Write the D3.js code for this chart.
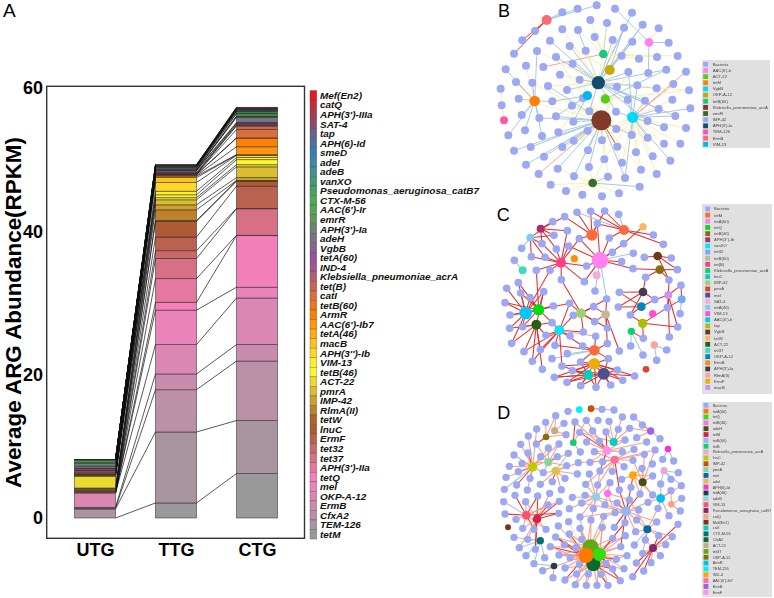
<!DOCTYPE html>
<html><head><meta charset="utf-8">
<script src="https://cdn.jsdelivr.net/npm/d3@7"></script>
<style>html,body{margin:0;padding:0;background:#fff}svg{display:block}text{font-family:"Liberation Sans",Arial,sans-serif}</style>
</head><body><svg id="c" width="774" height="598"></svg>
<script>
// ---------- Panel A data (bottom of the stack first) ----------
const groups=["UTG","TTG","CTG"];
const genes=["tetM","TEM-126","CfxA2","ErmB","OKP-A-12","mel","tetQ","APH(3')-IIa","tet37","tet32","ErmF","lnuC","tetW","RlmA(II)","IMP-42","pmrA","ACT-22","tetB(46)","VIM-13","APH(3'')-Ib","macB","tetA(46)","AAC(6')-Ib7","ArmR","tetB(60)","catI","tet(B)","Klebsiella_pneumoniae_acrA","IND-4","tetA(60)","VgbB","adeH","APH(3')-Ia","emrR","AAC(6')-Ir","CTX-M-56","Pseudomonas_aeruginosa_catB7","vanXO","adeB","adeI","smeD","APH(6)-Id","tap","SAT-4","APH(3')-IIIa","catQ","Mef(En2)"];
const utgValues=[0,1.26,.1,.13,2,0,0,0,0,.05,.2,.05,.03,.2,.1,.07,1.6,.1,.05,.05,.05,.03,.02,0,.05,.05,.2,.2,.1,.2,.05,.3,.35,.2,.3,.03,.02,.01,.01,.01,.01,0,0,0,0,0,0];
const ttgValues=[2.1,9.9,5.9,2.2,4.1,4.8,1.1,3.3,2.8,1.1,1.9,2.2,.1,1.5,.7,.7,.3,.4,.5,1.2,.7,.2,.1,.1,.05,.05,.05,.05,.1,.25,.05,.05,.05,.05,.15,.1,.05,.05,.05,.05,.05,.05,.02,.02,.02,.02,.02];
const ctgValues=[6.2,7.4,8.3,2.3,6.5,1.5,7.2,.05,3.7,.05,3.1,.7,.05,.05,.4,1.5,.3,.7,.3,.3,.05,.05,1.1,1.2,.05,1.15,.5,.1,.15,.15,.1,.7,.1,.1,.3,.1,.2,.1,.05,.05,.1,.05,.05,.05,.05,.05,.05];
const yTicks=[0,20,40,60];

// ---------- Network layouts, in layout units ----------
// leaf: [x, y, hub, edge kind]; edge kind omitted = the panel's usual kind
const edgeKindColors=["#a4c6da","#f5efb0","#e03030","#f5a08c"];
const bacteriaColor="#9ca8f2";

const netBLegend=["Bacteria","AAC(6')-Ir","ACT-22","tetM","VgbB","OKP-A-12","tetB(60)","Klebsiella_pneumoniae_acrA","emrR","IMP-42","APH(3')-Ia","TEM-126","ErmB","VIM-13"];
const netBColors=[bacteriaColor,"#ff80f0","#55d010","#ff8000","#00d8ff","#c8a800","#15c882","#803a28","#3e6b1f",bacteriaColor,"#134d6b","#ff55aa","#f96a72","#00b8f0"];
const netBHubs=[["ErmB",170,60,15],["AAC(6')-Ir",477,127,13],["tetB(60)",340,162,13],["OKP-A-12",359,210,15],["APH(3')-Ia",325,248,20],["VIM-13",292,287,14],["ACT-22",346,297,14],["tetM",134,303,16],["VgbB",428,352,17],["Klebsiella_pneumoniae_acrA",334,361,30],["TEM-126",42,361,12],["emrR",308,549,13]];
const netBLeaves=[[320,16,0],[263,26,0],[217,37,0],[375,26,1],[426,38,4],[135,93,0,2],[301,60,2,1],[351,69,2],[458,74,4],[506,85,1,1],[217,88,4,1],[264,90,4],[402,83,3],[314,111,2,1],[368,120,4],[427,125,3],[536,128,1],[97,121,0,2],[180,122,4],[239,138,4],[72,161,0,2],[141,153,7],[287,152,4,1],[198,171,4],[395,167,2,1],[447,176,2,1],[501,171,2,1],[563,168,2,1],[47,208,7],[108,197,7,1],[160,201,2,3],[248,191,4],[210,224,4,1],[415,216,4],[475,219,1],[529,209,4],[588,215,8,3],[78,246,7,3],[127,248,7],[269,239,4],[174,258,4,1],[32,266,10,1],[231,270,4],[381,260,4],[442,256,4],[500,265,4],[550,252,8,3],[597,271,4,1],[86,296,7],[187,304,7],[279,294,4,1],[35,316,10,1],[413,299,8],[465,302,8],[547,299,8,1],[246,317,9,1],[298,334,9],[378,335,8],[506,327,8],[601,325,8],[95,345,7],[148,354,7],[198,349,9],[250,365,9],[473,363,8],[556,348,8],[105,391,7],[205,397,9],[293,392,9],[379,387,9,2],[522,382,8],[588,384,8,1],[55,406,7],[156,408,7],[251,422,9,3],[336,421,9],[425,405,8],[473,413,8],[382,440,9,2],[522,431,8,1],[571,431,8,1],[122,441,9],[72,452,9],[294,451,9],[217,441,9],[162,470,9],[438,457,8,1],[488,469,8,1],[343,478,9,1],[396,488,9,1],[541,482,8],[108,494,9],[203,506,9],[297,501,9],[453,509,8,1],[500,522,8,1],[146,522,9,3],[252,529,9],[354,530,9,1],[405,534,8],[182,554,11,1],[449,560,11],[228,573,11,1],[277,584,11,1],[336,589,11,1],[387,580,11,1]];
const netBExtraEdges=[[402,83,4],[368,120,3,1],[351,69,4,1],[427,125,4],[458,74,3],[264,90,2,1],[239,138,3,1],[198,171,9,1],[141,153,4,1],[127,248,9,1],[231,270,9,1],[174,258,9],[269,239,9,1],[298,334,4],[381,260,9,1],[442,256,8],[500,265,8,1],[415,216,9,1],[415,216,8],[529,209,6],[597,271,6,1],[378,335,4],[413,299,4],[465,302,4],[473,363,4],[425,405,9],[473,413,9,1],[506,327,4],[556,348,4],[343,478,8,1],[396,488,8,1],[294,451,8,1],[336,421,8,1],[205,397,5,1],[198,349,5],[250,365,5],[246,317,5],[187,304,5],[86,296,9,1],[148,354,9],[217,441,8,1],[405,534,9],[453,509,9,1],[297,501,11,1],[252,529,11,1],[354,530,11],[343,478,11,1],[203,506,11,1]];

const netCLegend=["Bacteria","tetM","tetA(60)","tetQ","tetB(46)","APH(3'')-Ib","vanXO","tet32","tetB(60)","tet(B)","Klebsiella_pneumoniae_acrA","lnuC","IMP-42","pmrA","mel","SAT-4","tetA(46)","VIM-13","AAC(6')-Ir","tap","VgbB","tetW","ACT-22","tet37","OKP-A-12","ErmB","APH(3')-Ia","RlmA(II)","ErmF","macB"];
const netCColors=[bacteriaColor,"#ff6a3a","#ff80f0","#00dd10","#8b6b10","#a83068","#00e8f8","#70aaf8","#c0b898","#ff3d88","#10d070","#00d0c0","#a0d070","#e04030","#4a5090","#f5aadf","#88c8f0","#ff4fd0","#00c8ff","#a8c000","#6b3a18","#ffb566","#285f18","#40d8c0","#0088b8","#ff8c10","#45384f","#ff9f9f","#e8b000","#d090f0"];
const netCHubs=[["tetA(60)",330,181,25],["tetM",306,105,17],["tetM",402,90,15],["tetW",459,80,11],["APH(3'')-Ib",152,86,12],["tetA(46)",121,113,12],["tet(B)",213,188,15],["ErmB",253,176,11],["SAT-4",320,226,12],["VgbB",503,168,13],["tetB(46)",509,209,13],["tet37",98,211,12],["APH(3')-Ia",459,276,13],["macB",535,285,12],["tet32",575,298,12],["OKP-A-12",454,320,13],["VIM-13",488,341,11],["AAC(6')-Ir",107,339,19],["tetQ",146,329,17],["IMP-42",273,340,15],["tetB(60)",347,343,13],["tap",458,370,14],["ACT-22",139,374,15],["vanXO",208,391,15],["Klebsiella_pneumoniae_acrA",424,394,11],["RlmA(II)",493,435,11],["tetM",313,451,16],["ErmF",313,491,17],["lnuC",295,525,15],["mel",341,521,18],["pmrA",468,508,10]];
const netCLeaves=[[224,50,1],[261,37,1],[302,34,1],[344,33,1],[386,43,2,0],[188,65,4],[322,71,1],[232,92,6],[268,116,1],[192,106,4],[156,131,6],[95,145,5,0],[73,181,11,0],[124,170,6],[165,172,6],[199,147,6],[236,138,0],[358,114,0],[401,131,3],[490,105,2],[520,133,2],[430,160,0,0],[463,172,9],[367,157,0],[395,185,0],[544,174,9],[290,198,0],[429,206,0],[467,232,10],[562,209,10],[537,240,9],[139,211,6],[180,211,6],[214,239,19],[283,245,0],[50,265,17],[85,248,17],[92,279,17],[120,293,17],[161,275,18],[315,273,0,0],[350,297,0,0],[388,277,12],[385,321,12],[494,299,12],[573,256,13],[45,308,17],[190,318,18],[239,310,19],[311,320,20],[60,345,17],[532,323,13],[421,345,15],[570,341,14,0],[59,385,17],[98,380,17],[250,346,19],[314,365,20],[186,368,23],[168,406,22],[240,408,23],[280,396,23],[352,384,20],[563,381,21],[538,411,13],[317,409,26],[460,415,21],[102,455,22],[151,449,22],[195,436,23],[278,438,26],[352,431,26],[388,453,20],[530,450,25,0],[65,430,17],[127,484,22],[186,476,26,0],[232,461,26,0],[422,438,24,0],[459,465,24,0],[500,481,25,0],[157,508,22],[216,498,23],[355,476,27],[382,510,29],[193,532,28],[231,547,28],[272,557,28],[318,562,29],[362,555,29],[398,541,29],[434,528,29],[247,512,28],[272,486,27]];
const netCExtraEdges=[[322,71,0],[268,116,0],[401,131,0],[199,147,4],[192,106,5],[156,131,4],[156,131,5],[124,170,5],[165,172,5],[232,92,4],[188,65,5],[236,138,6],[224,50,4],[261,37,2,0],[302,34,2],[344,33,2],[322,71,2],[358,114,2],[268,116,6],[290,198,6],[283,245,6],[214,239,6],[139,211,18],[180,211,17],[161,275,17],[120,293,18],[190,318,17],[85,248,18],[92,279,18],[45,308,18],[60,345,18],[98,380,18],[59,385,22],[98,380,22],[65,430,22],[161,275,22],[186,368,22],[168,406,23],[186,368,18],[250,346,23],[239,310,23],[239,310,18],[311,320,19],[314,365,19],[280,396,19],[352,384,19],[350,297,20],[350,297,19],[388,277,15],[421,345,21],[421,345,12],[385,321,15],[494,299,13],[494,299,15],[532,323,21],[532,323,14],[573,256,14],[562,209,9],[537,240,10],[467,232,12],[429,206,10],[537,240,13],[563,381,13],[460,415,24],[317,409,23,3],[278,438,23],[195,436,26],[352,431,20],[102,455,23],[151,449,23],[127,484,23],[216,498,28],[216,498,27],[247,512,27],[247,512,29],[272,486,28],[272,486,26],[355,476,26],[355,476,29],[193,532,27],[231,547,29],[231,547,27],[272,557,29],[272,557,27],[318,562,28],[362,555,27],[382,510,27],[398,541,27],[434,528,27],[193,532,29],[318,562,27]];

const netDLegend=["Bacteria","tetA(60)","tetQ","tetB(46)","adeH","tetM","tetB(60)","tetB","Klebsiella_pneumoniae_acrA","lnuC","IMP-42","pmrA","mel","adeI","APH(6)-Id","tetA(46)","adeB","VIM-13","Pseudomonas_aeruginosa_catB7","catQ","Mef(En2)","catI","CTX-M-56","CfxA2","ACT-22","tet37","OKP-A-12","ArmR","TEM-126","IND-4","AAC(6')-Ib7","ErmB","ErmF"];
const netDColors=[bacteriaColor,"#ff7800","#33dd10","#ff70f0","#4a5015","#d82050","#90b8f8","#10d070","#e8a8d8","#bccc00","#c85000","#80d8a0","#006aa8","#dcc050","#ff30d0","#1e4050","#90d0e8","#ff5070","#802868","#ffa080","#7a3518","#00d0c0","#087070","#086a30","#c8a888","#60aa15","#857008","#00c0f0","#00f0f8","#ffa500","#ff6aa8","#a060e0","#ff90f0"];
const netDHubs=[["TEM-126",268,44,10],["IMP-42",303,41,10],["ACT-22",194,107,11],["OKP-A-12",168,126,10],["tetB",250,143,10],["catI",371,141,12],["ErmB",482,108,11],["APH(6)-Id",534,162,10],["ErmF",351,167,13],["AAC(6')-Ib7",374,194,12],["Klebsiella_pneumoniae_acrA",522,227,11],["IND-4",429,241,12],["adeH",458,262,12],["lnuC",128,216,14],["pmrA",175,202,12],["adeI",197,228,13],["ArmR",512,310,13],["catQ",544,328,10],["adeB",318,306,13],["tetB(46)",353,295,11],["tetB(60)",408,349,15],["VIM-13",109,361,13],["tetM",141,372,13],["Mef(En2)",54,397,9],["mel",472,403,12],["CTX-M-56",151,437,11],["Pseudomonas_aeruginosa_catB7",489,459,12],["tetA(46)",192,513,10],["CfxA2",310,508,21],["tet37",302,458,25],["tetQ",328,478,20],["tetA(60)",288,481,23]];
const netDLeaves=[[234,49,0,1],[336,43,1],[372,45,1],[197,62,2],[397,66,5],[431,66,6],[167,82,3],[222,85,2],[255,81,4,2],[289,76,8],[324,76,5,1],[357,79,5],[457,90,6],[140,102,13],[385,103,5],[419,100,6],[115,123,13],[228,119,2],[269,112,8,2],[308,108,8],[348,111,5],[405,135,5],[440,128,6],[510,131,6,0],[92,148,13],[139,147,3,2],[207,147,14],[290,141,8],[328,139,8,2],[470,141,8],[72,180,13],[114,174,13,2],[175,159,14],[235,175,15,0],[271,171,4],[313,170,8],[397,170,8],[432,163,9],[495,165,9],[463,178,9],[96,205,13],[152,185,13],[202,185,14,2],[265,203,15],[300,202,9],[338,200,9],[429,196,9],[518,193,7,0],[551,198,7,0],[58,214,13],[230,212,15],[402,215,9],[456,220,11],[487,207,12,1],[330,228,9],[367,229,9],[160,233,13],[85,230,13,2],
[48,247,13],[120,250,13,2],[225,250,15],[262,237,15],[298,237,18],[395,253,11],[488,243,12],[565,233,10,0],[80,270,13,2],[151,268,15],[187,260,15,2],[287,268,18],[323,270,18],[360,263,19],[423,277,11,2],[512,267,16],[543,253,10,0],[574,272,16],[43,283,13,0],[75,301,21,2],[112,285,13],[179,295,22],[214,284,15],[247,307,18],[285,301,18],[388,285,20,2],[450,297,12],[488,300,16],[543,287,16],[143,303,21,2],[41,320,21,0],[208,319,22,2],[107,320,21],[275,324,18],[345,329,19],[381,324,20,2],[418,315,20,2],[474,322,16],[504,340,16],[575,310,17],[174,330,22,2],[238,341,18],[310,341,18],[446,345,20],[571,348,17],[45,357,21,2],[206,355,22,2],[270,366,20],[303,375,29],[341,364,20],[375,353,20],[537,362,16],[405,383,20,2],[440,375,24],[500,381,24],[78,373,21],[236,380,31,1],[98,400,21],[132,403,21,2],[168,403,22],[205,393,31],[270,400,29],[337,397,29,1],[373,397,20,2],[437,410,24],[564,388,26,2],[72,427,25,0],[113,433,25,0],[197,426,31,2],[238,417,31,2],[275,433,31],[368,430,30],[406,422,30],[547,425,26],[506,422,26,2],[466,435,24,2],[88,458,25,0],[136,463,22,2],[181,455,31,2],[223,449,31,2],[257,458,31,2],[392,455,30],[433,450,24,0],[458,475,26],[527,449,26],[108,482,25,0],[164,488,25,0],[207,480,31,2],[240,488,31],[411,482,30],[379,493,30],[511,482,26],[483,503,26],[132,506,27,0],[158,527,27],[225,519,31],[268,508,31,1],[348,505,30],[439,504,26,2],[189,548,27],[225,555,28],[260,537,28],[295,537,28],[333,538,28],[368,522,30,2],[402,521,30],[461,528,26,2],[428,545,26,2],[256,569,28],[289,571,28],[321,571,28],[354,571,28,2],[391,557,30,2]];
const netDExtraEdges=[[269,112,5],[289,76,4],[255,81,8],[228,119,3],[197,62,3],[207,147,13],[175,159,13],[139,147,14],[202,185,13],[160,233,14],[160,233,15],[96,205,14],[235,175,14],[265,203,9],[300,202,8],[313,170,9],[338,200,8],[330,228,8,2],[330,228,18],[405,135,8],[397,170,8],[429,196,12],[456,220,12],[463,178,12],[495,165,12],[348,111,8,2],[419,100,5],[152,185,14],[230,212,14],[488,243,11],[450,297,20,2],[423,277,20,2],[450,297,11],[488,300,12],[287,268,9],[323,270,9],[388,285,9,2],[345,329,18],[360,263,18],[418,315,19],[275,324,20],[345,329,20],[303,375,18],[270,366,18],[270,366,31],[303,375,31],[341,364,31],[341,364,30],[270,400,28],[270,400,31],[337,397,30],[337,397,31],[275,433,29],[275,433,28],[238,417,29],[197,426,29],[197,426,28,2],[181,455,29],[181,455,28],[257,458,28],[257,458,30],[240,488,29],[240,488,28],[225,519,28],[260,537,29],[260,537,30],[268,508,30],[348,505,28],[348,505,31],[333,538,30],[333,538,31],[368,522,28,2],[391,557,28,2],[402,521,28],[379,493,31,2],[368,430,29],[392,455,31],[406,422,31],[411,482,28],[256,569,31],[289,571,31],[321,571,30],[354,571,30],[225,555,31,2],[207,480,29],[158,527,31],[132,506,25,0],[136,463,22,2],[168,403,21],[143,303,22,2],[208,319,21],[206,355,21,2],[174,330,21],[107,320,22],[98,400,22],[132,403,22,2],[437,410,20],[440,375,20],[500,381,20],[474,322,20],[504,340,24],[506,422,24],[466,435,26],[458,475,24],[512,267,10,0],[488,300,11],[375,353,19],[418,315,24],[543,287,17],[574,272,10,0],[88,458,22],[113,433,22],[547,425,24],[392,455,20,2],[381,324,18],[405,383,30,2]];

// ---------- Panel A drawing ----------
const svg=d3.select("#c");
const y=d3.scaleLinear().domain([0,60]).range([518,88]);
const x=d3.scalePoint().domain(groups).range([95,257]);
const barWidth=41;
const geneColor=d3.scaleOrdinal(genes.slice().reverse(),
  d3.quantize(d3.piecewise(d3.interpolateRgb,d3.schemeSet1),genes.length));
const valuesByGroup={UTG:utgValues,TTG:ttgValues,CTG:ctgValues};
const rows=groups.map(g=>{const r={group:g};genes.forEach((n,i)=>r[n]=valuesByGroup[g][i]);return r;});
const series=d3.stack().keys(genes)(rows);
const A=svg.append("g");
A.append("rect").attr("x",46.7).attr("y",86.3).attr("width",257.8).attr("height",452)
 .attr("fill","#fff").attr("stroke","#333").attr("stroke-width",1.4);
series.forEach(s=>{
  A.append("g").selectAll("rect").data(s).join("rect")
   .attr("x",d=>x(d.data.group)-barWidth/2).attr("width",barWidth)
   .attr("y",d=>y(d[1])).attr("height",d=>y(d[0])-y(d[1]))
   .attr("fill",geneColor(s.key)).attr("stroke","#222").attr("stroke-opacity",.62).attr("stroke-width",.8);
  const links=d3.pairs(s);
  A.append("g").selectAll("line").data(links).join("line")
   .attr("x1",d=>x(d[0].data.group)+barWidth/2).attr("x2",d=>x(d[1].data.group)-barWidth/2)
   .attr("y1",d=>y(d[0][1])).attr("y2",d=>y(d[1][1]))
   .attr("stroke","#111").attr("stroke-width",.7);
});
const yAxis=A.append("g").attr("transform","translate(47,0)")
 .call(d3.axisLeft(y).tickValues(yTicks).tickSize(0).tickPadding(4));
yAxis.select(".domain").remove();
yAxis.selectAll("text").attr("font-size",18).attr("font-weight","bold").attr("fill","#000").attr("font-family","Liberation Sans");
const xAxis=A.append("g").attr("transform","translate(0,538)")
 .call(d3.axisBottom(x).tickSize(0).tickPadding(5));
xAxis.select(".domain").remove();
xAxis.selectAll("text").attr("font-size",18).attr("font-weight","bold").attr("fill","#000").attr("font-family","Liberation Sans");
A.append("text").attr("transform","translate(20.5,312.5) rotate(-90)").attr("text-anchor","middle")
 .attr("font-size",22.4).attr("font-weight","bold").text("Average ARG Abundance(RPKM)");
A.append("text").attr("x",3).attr("y",17).attr("font-size",19).text("A");

// gene legend, top of the stack first
const legendOrder=genes.slice().reverse();
const legY=d3.scalePoint().domain(legendOrder).range([95.3,534.3]);
const leg=A.append("g").selectAll("g").data(legendOrder).join("g")
 .attr("transform",d=>`translate(310,${legY(d)})`);
leg.append("rect").attr("y",-legY.step()/2).attr("width",6.7).attr("height",legY.step())
 .attr("fill",d=>geneColor(d)).attr("stroke","#333").attr("stroke-opacity",.45).attr("stroke-width",.6);
leg.append("text").attr("x",10).attr("y",3.6).attr("font-size",9.95).attr("font-weight","bold")
 .attr("font-style","italic").attr("fill","#111").text(d=>d);

// ---------- Networks ----------
const netX=d3.scaleLinear().domain([0,852]).range([490,774]);
const netSize=d3.scaleLinear().domain([0,30]).range([0,10]);
function drawNetwork(cfg){
  const ny=d3.scaleLinear().domain([0,cfg.units]).range([cfg.top,cfg.top+cfg.units/3]);
  const color=d3.scaleOrdinal(cfg.legend,cfg.colors);
  const g=svg.append("g").style("filter","blur(0.3px)");
  g.append("g").selectAll("line").data(cfg.leaves.concat(cfg.extra)).join("line")
   .attr("x1",d=>netX(d[0])).attr("y1",d=>ny(d[1]))
   .attr("x2",d=>netX(cfg.hubs[d[2]][1])).attr("y2",d=>ny(cfg.hubs[d[2]][2]))
   .attr("stroke",d=>edgeKindColors[d[3]===undefined?cfg.kind:d[3]])
   .attr("stroke-width",cfg.edgeWidth);
  g.append("g").selectAll("circle").data(cfg.leaves).join("circle")
   .attr("cx",d=>netX(d[0])).attr("cy",d=>ny(d[1])).attr("r",netSize(cfg.leafSize)).attr("fill",bacteriaColor);
  g.append("g").selectAll("circle").data(cfg.hubs).join("circle")
   .attr("cx",d=>netX(d[1])).attr("cy",d=>ny(d[2])).attr("r",d=>netSize(d[3])).attr("fill",d=>color(d[0]));
  // legend
  const rowY=d3.scalePoint().domain(cfg.legend).range(cfg.legendRows);
  g.append("rect").attr("x",702).attr("y",cfg.legendBox[0]).attr("width",cfg.legendBox[2]-702)
   .attr("height",cfg.legendBox[1]-cfg.legendBox[0]).attr("fill","#e0e0e0");
  const r=g.append("g").selectAll("g").data(cfg.legend).join("g").attr("transform",d=>`translate(0,${rowY(d)})`);
  r.append("rect").attr("x",cfg.swatchX-2.4).attr("y",-2.4).attr("width",4.8).attr("height",4.8).attr("fill",d=>color(d));
  r.append("text").attr("x",cfg.textX).attr("y",1.4).attr("font-size",cfg.legendFont).attr("fill","#444").text(d=>d);
  svg.append("text").attr("x",netX(cfg.letter[0])).attr("y",cfg.letter[1]).attr("font-size",18).text(cfg.name);
}
drawNetwork({name:"B",letter:[24,16.7],top:0,units:600,legend:netBLegend,colors:netBColors,hubs:netBHubs,leaves:netBLeaves,extra:netBExtraEdges,kind:0,edgeWidth:.95,leafSize:12,legendRows:[64.3,144.3],legendBox:[60,148,770],swatchX:705.6,textX:712.7,legendFont:4.25});
drawNetwork({name:"C",letter:[20,221],top:200,units:600,legend:netCLegend,colors:netCColors,hubs:netCHubs,leaves:netCLeaves,extra:netCExtraEdges,kind:2,edgeWidth:1.05,leafSize:11.5,legendRows:[209,387.4],legendBox:[204,394,772],swatchX:707.7,textX:714,legendFont:4.2});
drawNetwork({name:"D",letter:[22,419],top:395,units:609,legend:netDLegend,colors:netDColors,hubs:netDHubs,leaves:netDLeaves,extra:netDExtraEdges,kind:3,edgeWidth:1.05,leafSize:11,legendRows:[405.3,592.3],legendBox:[402,597,772],swatchX:706,textX:712.7,legendFont:3.9});
</script></body></html>
